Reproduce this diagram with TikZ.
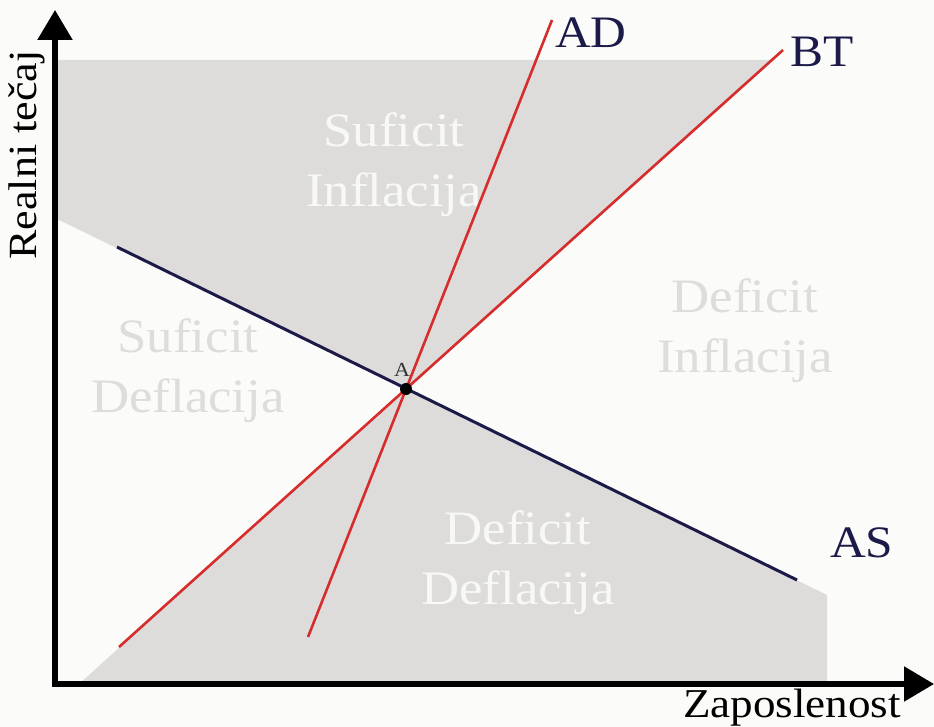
\documentclass[tikz,border=0pt]{standalone}
\usepackage{fontspec}
\setmainfont{Liberation Serif}[FakeStretch=1.1]
\usetikzlibrary{arrows.meta, positioning}
\definecolor{PaperWhite}{RGB}{251,251,250}
\definecolor{RegionGray}{RGB}{221,220,218}
\definecolor{CurveRed}{RGB}{214,44,44}
\definecolor{CurveNavy}{RGB}{28,26,72}
\definecolor{FaintGray}{RGB}{221,221,220}
\definecolor{SoftWhite}{RGB}{248,248,246}

\begin{document}
\begin{tikzpicture}[x=1pt, y=-1pt,
	lbl/.style={inner sep=0pt, text=CurveNavy, font=\fontsize{45}{50}\selectfont},
	region/.style={inner sep=0pt, align=center, font=\fontsize{48}{60}\selectfont},
	curve/.style={line width=2.6pt, CurveRed},
	axisline/.style={line width=5.5pt, {Triangle[length=30pt, width=34pt]}-{Triangle[length=30pt, width=34pt]}}]

	% background
	\fill[PaperWhite] (0,0) rectangle (934,727);
	\useasboundingbox (0,0) rectangle (934,727);

	% points
	\coordinate (Apt) at (406,389);
	\coordinate (ADlow) at (308,637); \coordinate (ADtop) at (552,20);
	\coordinate (BTlow) at (119,647); \coordinate (BTtop) at (783,50);
	\coordinate (ASleft) at (117,247); \coordinate (ASright) at (797,580);
	\coordinate (Ytip) at (55,10); \coordinate (Xtip) at (934,684);

	% shaded regions
	\fill[RegionGray] (55,60) -- (55,218) -- (Apt) -- (772,60) -- cycle;
	\fill[RegionGray] (Apt) -- (827,595) -- (827,684) -- (79,684) -- cycle;

	% region texts
	\node[region, text=SoftWhite] (supinf) at (394,165) {Suficit\\Inflacija};
	\node[region, text=FaintGray] (supdef) at (188,371) {Suficit\\Deflacija};
	\node[region, text=FaintGray] (definf) at (745,331) {Deficit\\Inflacija};
	\node[region, text=SoftWhite] (defdef) at (518,563) {Deficit\\Deflacija};

	% curves
	\draw[curve] (ADlow) -- (ADtop);
	\draw[curve] (BTlow) -- (BTtop);
	\draw[line width=3pt, CurveNavy] (ASleft) -- (ASright);
	\node[circle, fill=black, minimum size=12pt, inner sep=0pt] (A) at (Apt) {};
	\node[inner sep=0pt, text=black!80, font=\fontsize{20}{22}\selectfont,
		above=6pt of A, xshift=-4pt] (Albl) {A};

	% curve names
	\node[lbl, anchor=west] (ADlbl) at (555,33) {AD};
	\node[lbl, anchor=west] (BTlbl) at (790,52) {BT};
	\node[lbl, anchor=west] (ASlbl) at (830,543) {AS};

	% axes
	\draw[axisline] (Ytip) |- (Xtip);
	\node[inner sep=0pt, anchor=base, font=\fontsize{41}{46}\selectfont] (xlbl) at (792,717) {Zaposlenost};
	\node[inner sep=0pt, anchor=base, rotate=90, font=\fontsize{40}{46}\selectfont] (ylbl) at (36,155) {Realni tečaj};
\end{tikzpicture}
\end{document}
